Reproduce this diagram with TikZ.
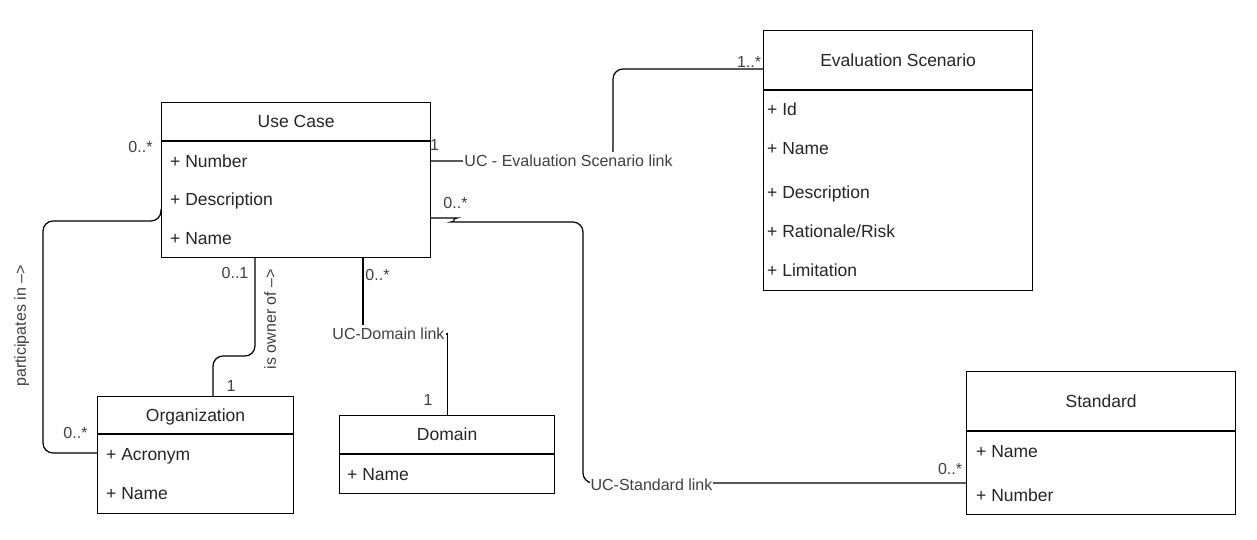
\documentclass[tikz,border=0pt]{standalone}
\usepackage{fontspec}
\setmainfont{Liberation Sans}
\usetikzlibrary{positioning}
\newcommand{\clsfont}{\fontsize{17.5}{20}\selectfont}
\newcommand{\mulfont}{\fontsize{16}{19}\selectfont}

\begin{document}
\begin{tikzpicture}[x=1pt, y=-1pt,
  box/.style={draw, line width=1.2pt, anchor=north west, inner sep=0pt},
  ttl/.style={font=\clsfont, text=black!85, inner sep=0pt, text height=12.5pt, text depth=0pt},
  attr/.style={ttl, anchor=west},
  mult/.style={font=\mulfont, text=black!75, inner sep=0pt, text height=11.5pt, text depth=0pt},
  lbl/.style={mult, fill=white, inner xsep=1pt, inner ysep=3pt},
  lnk/.style={line width=1.2pt, rounded corners=10pt}]
\fill[white] (0,0) rectangle (1257,540);
\useasboundingbox (0,0) rectangle (1257,540);

% classes
\node[box, minimum width=269pt, minimum height=155pt] (usecase) at (161,102) {};
\node[box, minimum width=269pt, minimum height=260pt] (evalscen) at (763,30) {};
\node[box, minimum width=196pt, minimum height=117pt] (org) at (97,396) {};
\node[box, minimum width=215pt, minimum height=78pt] (domain) at (339,415) {};
\node[box, minimum width=269pt, minimum height=143pt] (standard) at (966,371) {};
\draw[line width=1.2pt] (usecase.west |- 0,141) -- (usecase.east |- 0,141);
\draw[line width=1.2pt] (evalscen.west |- 0,90) -- (evalscen.east |- 0,90);
\draw[line width=1.2pt] (org.west |- 0,434) -- (org.east |- 0,434);
\draw[line width=1.2pt] (domain.west |- 0,454) -- (domain.east |- 0,454);
\draw[line width=1.2pt] (standard.west |- 0,431) -- (standard.east |- 0,431);

\node[ttl] (uctitle) at (usecase.north |- 0,121.5) {Use Case};
\node[ttl] (estitle) at (evalscen.north |- 0,60) {Evaluation Scenario};
\node[ttl] (orgtitle) at (org.north |- 0,415) {Organization};
\node[ttl] (domtitle) at (domain.north |- 0,434.5) {Domain};
\node[ttl] (stdtitle) at (standard.north |- 0,401) {Standard};

\foreach \t/\y [count=\i] in {Number/161, Description/199, Name/238}
  \node[attr] (uca\i) at (170,\y) {+ \t};
\foreach \t/\y [count=\i] in {Id/109, Name/148, Description/192, {Rationale/Risk}/231, Limitation/270}
  \node[attr] (esa\i) at (767,\y) {+ \t};
\foreach \t/\y [count=\i] in {Acronym/454, Name/493}
  \node[attr] (orga\i) at (106,\y) {+ \t};
\node[attr] (doma1) at (347,474) {+ Name};
\foreach \t/\y [count=\i] in {Name/451, Number/495}
  \node[attr] (stda\i) at (976,\y) {+ \t};

% links
\draw[lnk] (usecase.east |- 0,161) -| (613,69) -- (evalscen.west |- 0,69);
\node[lbl] (eslink) at (568.5,161) {UC - Evaluation Scenario link};

\draw[lnk] (usecase.east |- 0,218) -- (447,218) to[out=0,in=180] (461,222) -| (583,483) -- (standard.west |- 0,483);
\node[lbl] (stdlink) at (651.5,485) {UC-Standard link};

\draw[line width=1.2pt] (usecase.south -| 363,0) |- (domain.north |- 0,334) -- (domain.north);
\node[lbl] (domlink) at (388.5,334) {UC-Domain link};

\draw[lnk] (usecase.south -| 255,0) -- (255,356) -- (213,356) -- (org.north -| 213,0);
\draw[lnk] (usecase.west |- 0,209) -- (161,221) -- (43,221) -- (43,453) -- (org.west |- 0,453);

% multiplicities
\node[mult] (m1) at (140.5,147) {0..*};
\node[mult] (m2) at (434.5,145) {1};
\node[mult] (m3) at (749,62) {1..*};
\node[mult] (m4) at (455.5,203) {0..*};
\node[mult] (m5) at (235,273) {0..1};
\node[mult] (m6) at (377.5,275) {0..*};
\node[mult] (m7) at (231,386) {1};
\node[mult] (m8) at (428,400) {1};
\node[mult] (m9) at (75.5,433) {0..*};
\node[mult] (m10) at (950,469) {0..*};
\node[mult, rotate=90] (partlbl) at (20,326) {participates in -->};
\node[mult, rotate=90] (ownlbl) at (270,319) {is owner of -->};
\end{tikzpicture}
\end{document}
